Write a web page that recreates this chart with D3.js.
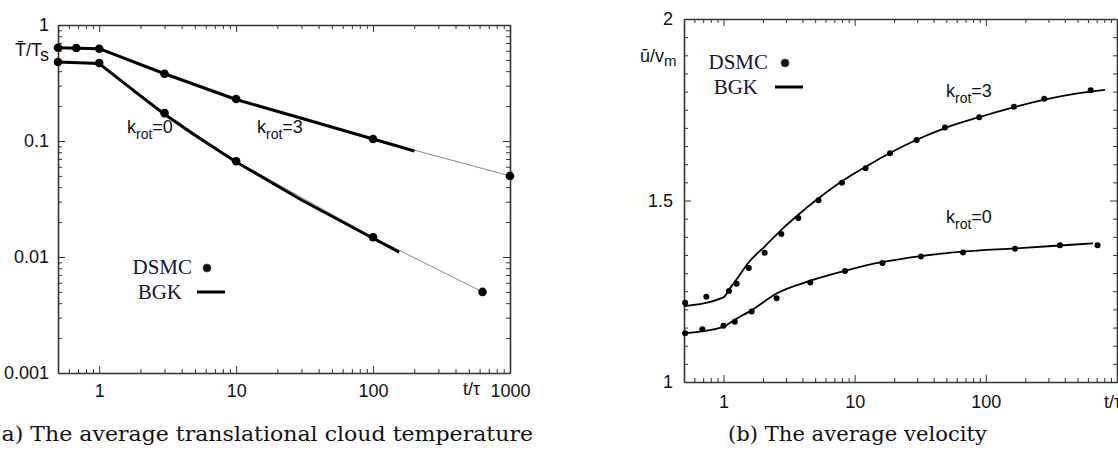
<!DOCTYPE html>
<html>
<head>
<meta charset="utf-8">
<script src="https://cdn.jsdelivr.net/npm/d3@7"></script>
<style>
  body { margin: 0; background: #fff; }
  svg { display: block; }
</style>
</head>
<body>
<div class="chart"></div>
<script>
// (a) temperature, T/Ts vs t/tau
const tempDsmcK3 = [[0.5, 0.637], [0.68, 0.633], [1, 0.625], [3, 0.38], [10, 0.23], [100, 0.104], [1000, 0.05]];
const tempDsmcK0 = [[0.5, 0.48], [1, 0.47], [3, 0.174], [10, 0.067], [100, 0.0148], [630, 0.005]];
const tempBgkK3 = [[0.5, 0.637], [1, 0.625], [3, 0.38], [10, 0.228], [30, 0.157], [100, 0.104], [200, 0.082]];
const tempBgkK0 = [[0.5, 0.48], [1, 0.465], [2, 0.245], [3, 0.170], [5, 0.112], [10, 0.066], [30, 0.031], [100, 0.0145], [155, 0.011]];
const tempXTicks = [1, 10, 100, 1000];
const tempYTicks = [0.001, 0.01, 0.1, 1];

// (b) velocity, u/vm vs t/tau
const velDsmcK3 = [[0.51, 1.218], [0.74, 1.235], [1.1, 1.251], [1.26, 1.271], [1.56, 1.314], [2.06, 1.356], [2.76, 1.408],
  [3.72, 1.452], [5.3, 1.501], [8.0, 1.549], [12.1, 1.589], [18.6, 1.63], [29.7, 1.667], [48.8, 1.701], [89, 1.729],
  [164, 1.758], [279, 1.78], [630, 1.804]];
const velDsmcK0 = [[0.51, 1.134], [0.69, 1.145], [1.0, 1.155], [1.22, 1.166], [1.64, 1.194], [2.54, 1.231], [4.59, 1.274],
  [8.44, 1.306], [16.3, 1.328], [32, 1.346], [67, 1.357], [167, 1.367], [367, 1.377], [711, 1.377]];
const velBgkK3 = [[0.5, 1.209], [1, 1.233], [1.1, 1.254], [1.26, 1.283], [1.56, 1.33], [2.06, 1.373], [2.76, 1.419],
  [3.7, 1.46], [5.3, 1.506], [8, 1.553], [12, 1.592], [18.6, 1.631], [30, 1.668], [50, 1.701], [90, 1.73],
  [165, 1.757], [280, 1.778], [500, 1.795], [810, 1.805]];
const velBgkK0 = [[0.5, 1.134], [1, 1.152], [1.2, 1.17], [1.64, 1.198], [2.54, 1.244], [4.6, 1.279], [8.4, 1.306],
  [16, 1.33], [32, 1.347], [67, 1.359], [167, 1.368], [367, 1.376], [656, 1.382]];
const velXTicks = [1, 10, 100];
const velYTicks = [1, 1.5, 2];

const captions = ["(a) The average translational cloud temperature", "(b) The average velocity"];

const w = 1118, h = 458;
const sans = "'Liberation Sans', Arial, Helvetica, sans-serif";
const serif = "'Liberation Serif', 'Times New Roman', serif";
const capFont = "'DejaVu Serif', serif";

const svg = d3.select(".chart").append("svg")
  .attr("width", w)
  .attr("height", h)
  .style("background", "#fff");

// scales
const xL = d3.scaleLog().domain([0.5, 1000]).range([58, 510]);
const yL = d3.scaleLog().domain([0.001, 1]).range([373, 25]);
const xR = d3.scaleLog().domain([0.5, 1000]).range([684, 1117]);
const yR = d3.scaleLinear().domain([1, 2]).range([382, 19]);

function styleAxis(g) {
  g.attr("font-family", sans).attr("font-size", 18).attr("color", "#333");
  g.selectAll(".domain").attr("stroke-width", 1.6);
  g.selectAll(".tick line").attr("stroke-width", 1);
  g.selectAll(".tick text").attr("fill", "#111");
}

// box with inward ticks on all four sides
function frame(x, y, o) {
  const [xa, xb] = x.range();
  const [yb, ya] = y.range();
  const g = svg.append("g");

  g.append("g").attr("transform", `translate(0,${yb})`)
    .call(d3.axisBottom(x).tickValues(o.xMajor).tickSize(-7).tickSizeOuter(0).tickPadding(o.xPad).tickFormat(d => String(d)))
    .call(styleAxis);
  g.append("g").attr("transform", `translate(0,${yb})`)
    .call(d3.axisBottom(x).tickValues(o.xMinor).tickSize(-4).tickFormat(""))
    .call(a => a.select(".domain").remove()).call(styleAxis);
  g.append("g").attr("transform", `translate(0,${ya})`)
    .call(d3.axisTop(x).tickValues(o.xMajor).tickSize(-7).tickSizeOuter(0).tickFormat(""))
    .call(styleAxis);
  g.append("g").attr("transform", `translate(0,${ya})`)
    .call(d3.axisTop(x).tickValues(o.xMinor).tickSize(-4).tickFormat(""))
    .call(a => a.select(".domain").remove()).call(styleAxis);

  g.append("g").attr("transform", `translate(${xa},0)`)
    .call(d3.axisLeft(y).tickValues(o.yMajor).tickSize(-7).tickSizeOuter(0).tickPadding(o.yPad).tickFormat(d => String(d)))
    .call(styleAxis);
  g.append("g").attr("transform", `translate(${xa},0)`)
    .call(d3.axisLeft(y).tickValues(o.yMinor).tickSize(-4).tickFormat(""))
    .call(a => a.select(".domain").remove()).call(styleAxis);
  g.append("g").attr("transform", `translate(${xb},0)`)
    .call(d3.axisRight(y).tickValues(o.yMajor).tickSize(-7).tickSizeOuter(0).tickFormat(""))
    .call(styleAxis);
  g.append("g").attr("transform", `translate(${xb},0)`)
    .call(d3.axisRight(y).tickValues(o.yMinor).tickSize(-4).tickFormat(""))
    .call(a => a.select(".domain").remove()).call(styleAxis);
  return g;
}

frame(xL, yL, {
  xMajor: tempXTicks, xMinor: xL.ticks().filter(d => !tempXTicks.includes(d)),
  yMajor: tempYTicks, yMinor: yL.ticks().filter(d => !tempYTicks.includes(d)),
  xPad: 11, yPad: 9
});
frame(xR, yR, {
  xMajor: velXTicks, xMinor: xR.ticks().filter(d => !velXTicks.includes(d) && d < 1000),
  yMajor: velYTicks, yMinor: yR.ticks(20).filter(d => !velYTicks.includes(d)),
  xPad: 13, yPad: 11
});

// ---- panel (a)
const lineL = d3.line().x(d => xL(d[0])).y(d => yL(d[1]));
[tempDsmcK3, tempDsmcK0].forEach(s => {
  svg.append("path").datum(s).attr("d", lineL)
    .attr("fill", "none").attr("stroke", "#8c8c8c").attr("stroke-width", 1);
});
[tempBgkK3, tempBgkK0].forEach(s => {
  svg.append("path").datum(s).attr("d", lineL)
    .attr("fill", "none").attr("stroke", "#000").attr("stroke-width", 3)
    .attr("stroke-linejoin", "round");
});
[tempDsmcK3, tempDsmcK0].forEach(s => {
  svg.append("g").selectAll("circle").data(s).enter().append("circle")
    .attr("cx", d => xL(d[0])).attr("cy", d => yL(d[1])).attr("r", 4.3).attr("fill", "#000");
});

// ---- panel (b)
const lineR = d3.line().x(d => xR(d[0])).y(d => yR(d[1])).curve(d3.curveMonotoneX);
[velBgkK3, velBgkK0].forEach(s => {
  svg.append("path").datum(s).attr("d", lineR)
    .attr("fill", "none").attr("stroke", "#000").attr("stroke-width", 1.8);
});
[velDsmcK3, velDsmcK0].forEach(s => {
  svg.append("g").selectAll("circle").data(s).enter().append("circle")
    .attr("cx", d => xR(d[0])).attr("cy", d => yR(d[1])).attr("r", 3).attr("fill", "#000");
});

// ---- labels
function krot(x, y, val) {
  const t = svg.append("text").attr("x", x).attr("y", y)
    .attr("font-family", sans).attr("font-size", 18).attr("fill", "#111");
  t.append("tspan").text("k");
  t.append("tspan").attr("font-size", 14).attr("dy", 6).text("rot");
  t.append("tspan").attr("dy", -6).text("=" + val);
}
krot(127, 133, 0);
krot(257, 133, 3);
krot(946, 97, 3);
krot(946, 223, 0);

// axis titles
const tl = svg.append("text").attr("x", 15).attr("y", 56)
  .attr("font-family", sans).attr("font-size", 18).attr("fill", "#111");
tl.append("tspan").text("T\u0304/T");
tl.append("tspan").attr("dy", 5).text("s");

const tr = svg.append("text").attr("x", 640).attr("y", 62)
  .attr("font-family", sans).attr("font-size", 18).attr("fill", "#111");
tr.append("tspan").text("\u016B/v");
tr.append("tspan").attr("font-size", 15).attr("dy", 4).text("m");

svg.append("text").attr("x", 463).attr("y", 395)
  .attr("font-family", sans).attr("font-size", 18).attr("fill", "#111").text("t/\u03C4");
svg.append("text").attr("x", 1104).attr("y", 408)
  .attr("font-family", sans).attr("font-size", 18).attr("fill", "#111").text("t/\u03C4");

// legends
function legend(tx, ty, mx) {
  svg.append("text").attr("x", tx).attr("y", ty).attr("text-anchor", "end")
    .attr("font-family", serif).attr("font-size", 21).attr("fill", "#141430").text("DSMC");
  svg.append("circle").attr("cx", mx).attr("cy", ty - 6).attr("r", 4)
    .attr("fill", "#111").attr("stroke", "#555").attr("stroke-width", 0.8);
  svg.append("text").attr("x", tx - 10).attr("y", ty + 25).attr("text-anchor", "end")
    .attr("font-family", serif).attr("font-size", 21).attr("fill", "#141430").text("BGK");
  svg.append("line").attr("x1", mx - 10).attr("x2", mx + 18)
    .attr("y1", ty + 18).attr("y2", ty + 18).attr("stroke", "#000").attr("stroke-width", 3);
}
legend(192, 274, 207);
legend(768, 69, 785);

// captions
svg.append("text").attr("x", -7).attr("y", 441)
  .attr("font-family", capFont).attr("font-size", 19.5).attr("fill", "#111")
  .attr("textLength", 540).attr("lengthAdjust", "spacingAndGlyphs").text(captions[0]);
svg.append("text").attr("x", 728).attr("y", 441)
  .attr("font-family", capFont).attr("font-size", 19.5).attr("fill", "#111")
  .attr("textLength", 259).attr("lengthAdjust", "spacingAndGlyphs").text(captions[1]);
</script>
</body>
</html>
